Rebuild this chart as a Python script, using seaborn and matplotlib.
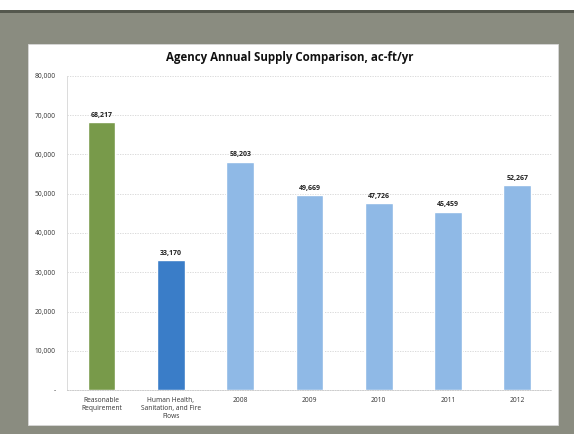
import matplotlib
matplotlib.use("Agg")
import matplotlib.pyplot as plt
from matplotlib.patches import Rectangle
from matplotlib.ticker import FuncFormatter
import seaborn as sns
import pandas as pd

# Supply categories and annual volumes (ac-ft/yr)
categories = [
    "Reasonable\nRequirement",
    "Human Health,\nSanitation, and Fire\nFlows",
    "2008", "2009", "2010", "2011", "2012",
]
supply = [68217, 33170, 58203, 49669, 47726, 45459, 52267]
bar_colors = ["#789a4a", "#3a7dc8", "#8fb9e6", "#8fb9e6", "#8fb9e6", "#8fb9e6", "#8fb9e6"]
y_ticks = [0, 10000, 20000, 30000, 40000, 50000, 60000, 70000, 80000]

df = pd.DataFrame({"category": categories, "supply": supply})

sns.set_theme(style="white")
plt.rcParams["font.family"] = ["Open Sans", "DejaVu Sans"]

fig = plt.figure(figsize=(5.74, 4.34), dpi=100, facecolor="#8a8c80")

# white strip along the top and white chart panel inside the gray frame
for rect in [
    Rectangle((0, 1 - 10 / 434), 1, 10 / 434, facecolor="white", edgecolor="none"),
    Rectangle((0, 1 - 13 / 434), 1, 3 / 434, facecolor="#55584e", edgecolor="none"),
    Rectangle((28 / 574, 1 - 425 / 434), (558 - 28) / 574, (425 - 44) / 434,
              facecolor="white", edgecolor="#d8d8d8", linewidth=0.6),
]:
    rect.set_transform(fig.transFigure)
    rect.set_zorder(-10)
    fig.patches.append(rect)

ax = fig.add_axes([67 / 574, 1 - 390 / 434, (552 - 67) / 574, (390 - 76) / 434])
ax.set_facecolor("none")

sns.barplot(data=df, x="category", y="supply", hue="category", palette=bar_colors,
            legend=False, width=0.4, saturation=1, ax=ax, zorder=3)

ax.set_ylim(0, 80000)
ax.set_yticks(y_ticks)
ax.yaxis.set_major_formatter(FuncFormatter(lambda v, p: "-" if v == 0 else f"{int(v):,}"))
ax.grid(axis="y", color="#d4d4d4", linestyle=(0, (1.5, 1.5)), linewidth=0.6, zorder=0)
ax.set_axisbelow(True)
ax.set_xlabel("")
ax.set_ylabel("")
for side in ["top", "right"]:
    ax.spines[side].set_visible(False)
ax.spines["left"].set_color("#d6d6d6")
ax.spines["left"].set_linewidth(0.6)
ax.spines["bottom"].set_color("#c4c4c4")
ax.spines["bottom"].set_linewidth(0.6)
ax.spines["bottom"].set_linestyle((0, (1.5, 1.5)))
ax.tick_params(axis="y", labelsize=4.8, colors="#333333", length=0, pad=8)
ax.tick_params(axis="x", labelsize=4.8, colors="#333333", length=0, pad=5)

for i, v in enumerate(supply):
    ax.text(i, v + 800, f"{v:,}", ha="center", va="bottom", fontsize=5,
            fontweight="bold", color="#222222")

fig.text(0.505, 1 - 57 / 434, "Agency Annual Supply Comparison, ac-ft/yr",
         ha="center", va="center", fontsize=8.3, fontweight="bold", color="#111111")

fig.savefig("out.png", dpi=100, facecolor=fig.get_facecolor())
